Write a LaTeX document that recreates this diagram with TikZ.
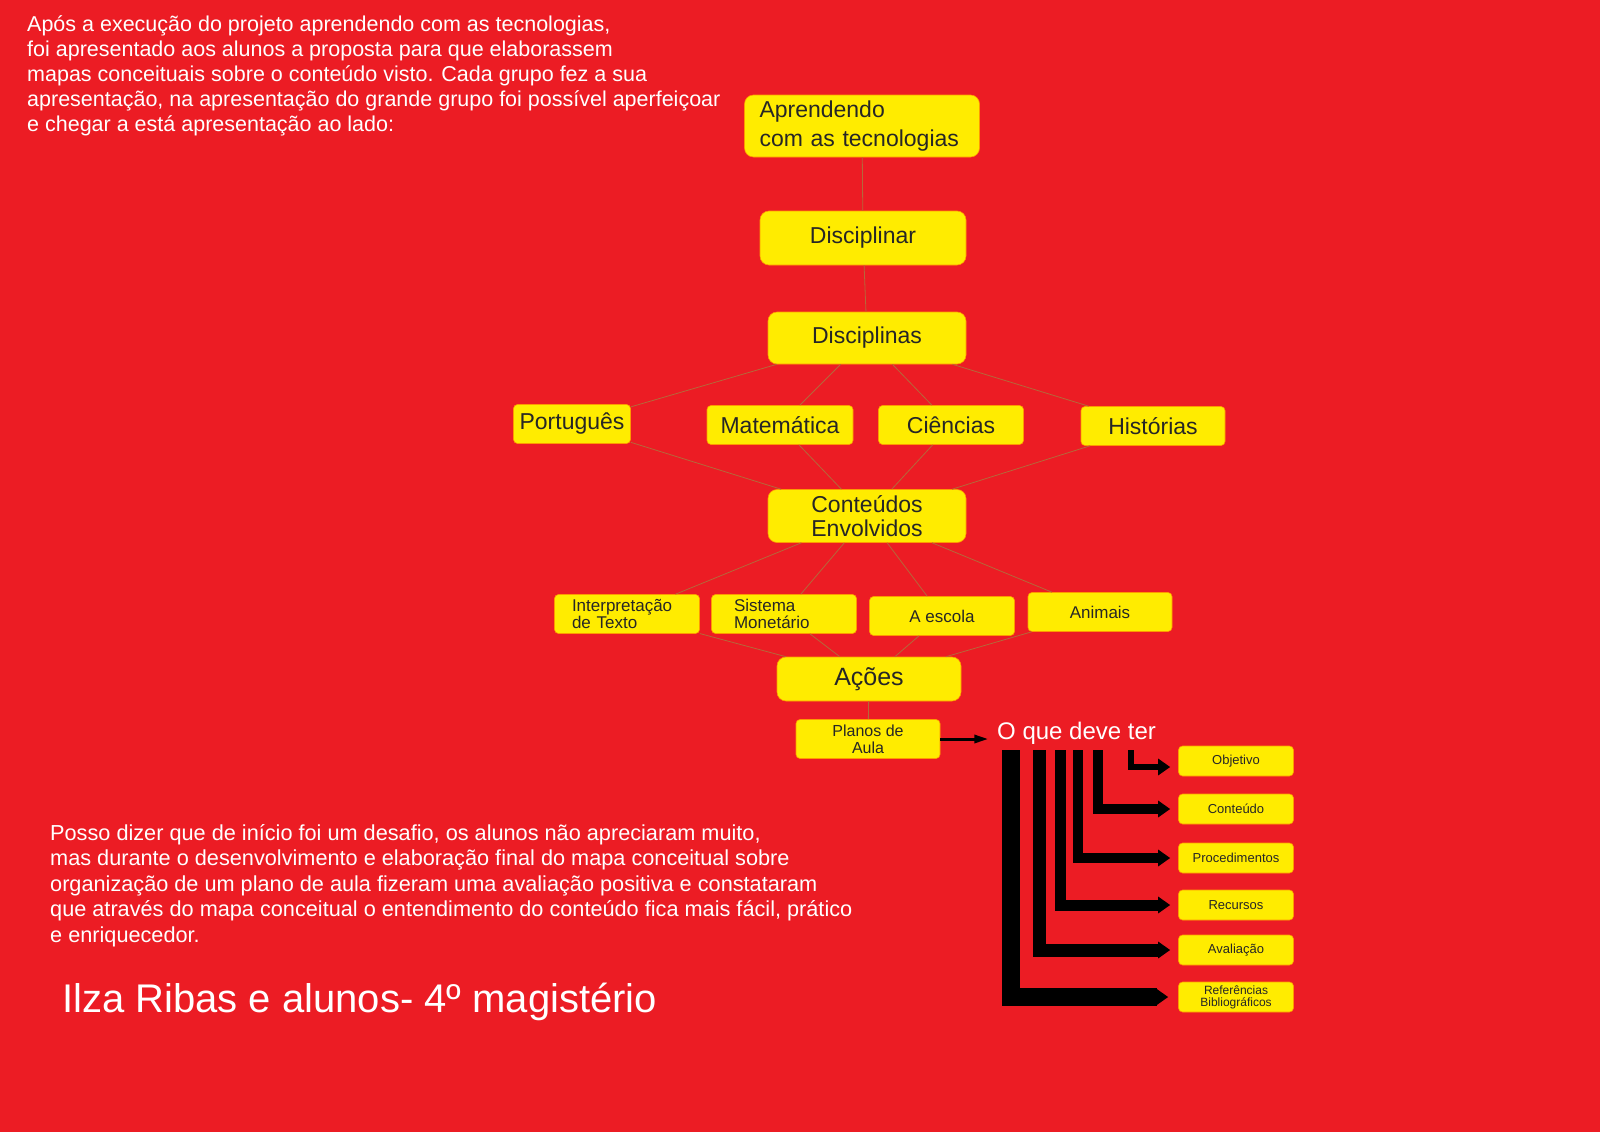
\documentclass[tikz,border=0pt]{standalone}
\usepackage{fontspec}
\setmainfont{Liberation Sans}
\usetikzlibrary{arrows.meta}
\definecolor{bg}{HTML}{EC1C24}
\definecolor{yel}{HTML}{FFEC00}
\definecolor{lnk}{HTML}{B5683A}
\tikzset{
  box/.style={draw=orange!80!yellow, line width=0.6pt, fill=yel, rounded corners=9pt, inner sep=0pt, align=center, text=black!85},
  sbox/.style={box, rounded corners=4pt},
  link/.style={lnk, line width=0.8pt},
  fat/.style={black, line cap=butt, -{Triangle[length=12pt,width=16pt]}},
  wtext/.style={text=white, anchor=north west, align=left, inner sep=0pt}
}
\newcommand{\fs}[1]{\fontsize{#1pt}{\dimexpr #1pt*5/4\relax}\selectfont}
\begin{document}
\begin{tikzpicture}[x=1pt,y=-1pt]
\fill[bg] (0,0) rectangle (1600,1132);
\useasboundingbox (0,0) rectangle (1600,1132);
\node[wtext, font=\fontsize{21.5}{25}\selectfont] (intro) at (27,15) {Após a execução do projeto aprendendo com as tecnologias,\\foi apresentado aos alunos a proposta para que elaborassem\\mapas conceituais sobre o conteúdo visto. Cada grupo fez a sua\\apresentação, na apresentação do grande grupo foi possível aperfeiçoar\\e chegar a está apresentação ao lado:};
\node[wtext, font=\fontsize{21.7}{25.5}\selectfont] (outro) at (50,824) {Posso dizer que de início foi um desafio, os alunos não apreciaram muito,\\mas durante o desenvolvimento e elaboração final do mapa conceitual sobre\\organização de um plano de aula fizeram uma avaliação positiva e constataram\\que através do mapa conceitual o entendimento do conteúdo fica mais fácil, prático\\e enriquecedor.};
\node[wtext, font=\fontsize{40}{45}\selectfont] (sig) at (62,983) {Ilza Ribas e alunos- 4º magistério};

\node[box, minimum width=235, minimum height=62, font=\fs{23}, align=left, text width=205] (apr) at (862,126) {Aprendendo\\com as tecnologias};
\node[box, minimum width=206, minimum height=54, font=\fs{23}] (dis) at (863,238) {Disciplinar};
\node[box, minimum width=198, minimum height=52, font=\fs{23}] (diss) at (867,338) {Disciplinas};
\node[sbox, minimum width=117, minimum height=39, font=\fs{23}] (por) at (572,424) {Português};
\node[sbox, minimum width=146, minimum height=39, font=\fs{23}] (mat) at (780,425) {Matemática};
\node[sbox, minimum width=145, minimum height=39, font=\fs{23}] (cie) at (951,425) {Ciências};
\node[sbox, minimum width=144, minimum height=39, font=\fs{23}] (his) at (1153,426) {Histórias};
\node[box, minimum width=198, minimum height=53, font=\fontsize{23pt}{24pt}\selectfont] (con) at (867,516) {Conteúdos\\Envolvidos};
\node[sbox, minimum width=145, minimum height=39, font=\fontsize{17pt}{17pt}\selectfont, align=left, text width=110] (int) at (627,614) {Interpretação\\de Texto};
\node[sbox, minimum width=145, minimum height=39, font=\fontsize{17pt}{17pt}\selectfont, align=left, text width=100] (sis) at (784,614) {Sistema\\Monetário};
\node[sbox, minimum width=145, minimum height=39, font=\fs{17}] (esc) at (942,616) {A escola};
\node[sbox, minimum width=144, minimum height=39, font=\fs{17}] (ani) at (1100,612) {Animais};
\node[box, minimum width=184, minimum height=44, font=\fs{25}] (aco) at (869,679) {Ações};
\node[sbox, minimum width=144, minimum height=39, font=\fontsize{16pt}{17pt}\selectfont] (pla) at (868,739) {Planos de\\Aula};
\node[text=white, font=\fs{24}, anchor=west, inner sep=0pt] (oque) at (997,733) {O que deve ter};

\foreach \a/\b in {apr/dis, dis/diss, aco/pla}
  \draw[link] (\a) -- (\b);
\foreach \n in {por,mat,cie,his}{
  \draw[link] (diss) -- (\n);
  \draw[link] (\n) -- (con);}
\foreach \n in {int,sis,esc,ani}{
  \draw[link] (con) -- (\n);
  \draw[link] (\n) -- (aco);}
\draw[black, line width=3pt, -{Triangle[length=14pt,width=8pt]}] (pla.east) -- ++(48,0);

\foreach \n/\t/\y in {obj/Objetivo/761, ctd/Conteúdo/809, pro/Procedimentos/858, rec/Recursos/905, ava/Avaliação/950}
  \node[sbox, minimum width=115, minimum height=30, font=\fs{13}] (\n) at (1236,\y) {\t};
\node[sbox, minimum width=115, minimum height=30, font=\fontsize{12pt}{12pt}\selectfont] (ref) at (1236,997) {Referências\\Bibliográficos};

\coordinate (c1) at (1131,750);
\coordinate (c2) at (1098,750);
\coordinate (c3) at (1078,750);
\coordinate (c4) at (1060,750);
\coordinate (c5) at (1039,750);
\coordinate (c6) at (1011,750);
\draw[fat, line width=6pt] (c1) |- ([xshift=-8pt,yshift=-6pt]obj.west);
\draw[fat, line width=10pt] (c2) |- ([xshift=-8pt]ctd.west);
\draw[fat, line width=10pt] (c3) |- ([xshift=-8pt]pro.west);
\draw[fat, line width=11pt] (c4) |- ([xshift=-8pt]rec.west);
\draw[fat, line width=13pt] (c5) |- ([xshift=-8pt]ava.west);
\draw[fat, line width=18pt] (c6) |- ([xshift=-10pt]ref.west);
\end{tikzpicture}
\end{document}
